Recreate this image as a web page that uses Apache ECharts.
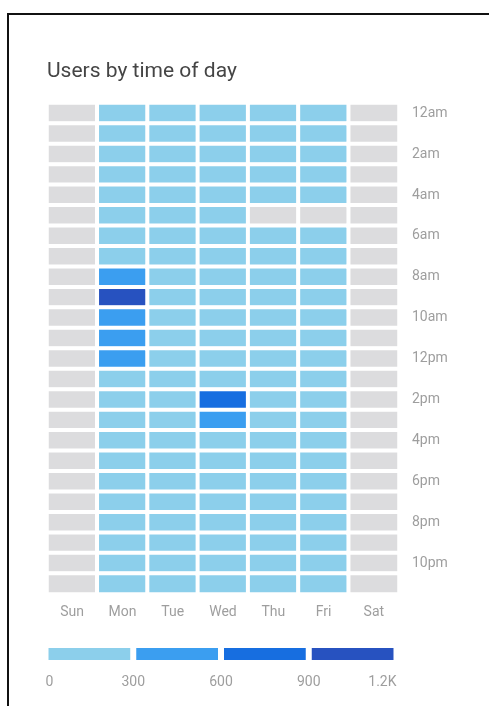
<!DOCTYPE html>
<html>
<head>
<meta charset="utf-8">
<script src="https://cdn.jsdelivr.net/npm/echarts@6/dist/echarts.min.js"></script>
<style>
html,body{margin:0;padding:0;background:#fff;}
#wrap{position:relative;width:489px;height:706px;overflow:hidden;}
#chart{position:absolute;left:0;top:0;width:489px;height:706px;}
#frame{position:absolute;left:7px;top:13px;width:600px;height:800px;border-left:2px solid #111;border-top:2px solid #111;pointer-events:none;}
</style>
</head>
<body>
<div id="wrap"><div id="chart"></div><div id="frame"></div></div>
<script>
const days = ['Sun','Mon','Tue','Wed','Thu','Fri','Sat'];
const hours = ['12am','1am','2am','3am','4am','5am','6am','7am','8am','9am','10am','11am',
               '12pm','1pm','2pm','3pm','4pm','5pm','6pm','7pm','8pm','9pm','10pm','11pm'];
const sun = [0,0,0,0,0,0,0,0,0,0,0,0,0,0,0,0,0,0,0,0,0,0,0,0];
const mon = [95,80,70,60,75,110,150,240,420,1050,480,450,390,280,260,250,230,210,190,170,150,130,120,100];
const tue = [90,75,65,55,60,80,130,210,260,270,250,240,230,220,230,240,220,200,180,160,140,120,110,95];
const wed = [85,70,60,50,55,70,120,200,250,260,240,230,220,210,720,380,230,210,190,170,150,130,110,90];
const thu = [80,65,55,45,40,0,110,190,240,250,235,225,215,205,215,225,210,190,170,150,130,115,100,85];
const fri = [75,60,50,40,35,0,100,180,230,240,225,215,205,195,200,205,190,170,150,135,120,105,95,80];
const sat = [0,0,0,0,0,0,0,0,0,0,0,0,0,0,0,0,0,0,0,0,0,0,0,0];
const dayValues = [sun, mon, tue, wed, thu, fri, sat];
const bandEdges = [0, 300, 600, 900, 1200];
const bandLabels = ['0','300','600','900','1.2K'];
const zeroColor = '#dcdcde';
const bandColors = ['#8ccfeb','#3b9ef0','#176ee0','#2752c0'];

const cells = [];
dayValues.forEach((arr, d) => arr.forEach((v, h) => cells.push([d, h, v])));

const pieces = [{value: 0, color: zeroColor}];
for (let i = 0; i < bandColors.length; i++) {
  pieces.push({gt: bandEdges[i], lte: bandEdges[i+1], color: bandColors[i]});
}

const legendSeries = bandColors.map((c, i) => ({
  type: 'bar', xAxisIndex: 1, yAxisIndex: 1, stack: 'legend',
  data: [bandEdges[i+1] - bandEdges[i]], barWidth: 18,
  itemStyle: {color: c, borderColor: '#fff', borderWidth: 3},
  silent: true
}));

const labelColor = '#9e9e9e';
const chart = echarts.init(document.getElementById('chart'), null, {renderer: 'canvas'});
chart.setOption({
  animation: false,
  textStyle: {fontFamily: 'Roboto'},
  title: {
    text: 'Users by time of day', left: 42, top: 56,
    textStyle: {fontFamily: 'Roboto', fontSize: 21, fontWeight: 'normal', color: '#454545'}
  },
  grid: [
    {left: 47, top: 103, width: 352, height: 491},
    {left: 45.5, top: 645, width: 351, height: 18}
  ],
  xAxis: [
    {type: 'category', gridIndex: 0, data: days, position: 'bottom',
     axisLine: {show: false}, axisTick: {show: false}, splitLine: {show: false},
     axisLabel: {color: labelColor, fontSize: 14, margin: 11, fontFamily: 'Roboto'}},
    {type: 'value', gridIndex: 1, min: bandEdges[0], max: bandEdges[bandEdges.length-1], interval: 300,
     axisLine: {show: false}, axisTick: {show: false}, splitLine: {show: false},
     axisLabel: {color: labelColor, fontSize: 14, margin: 12, fontFamily: 'Roboto',
       alignMinLabel: 'left', alignMaxLabel: 'right',
       formatter: v => bandLabels[bandEdges.indexOf(v)]}}
  ],
  yAxis: [
    {type: 'category', gridIndex: 0, data: hours, inverse: true, position: 'right',
     axisLine: {show: false}, axisTick: {show: false}, splitLine: {show: false},
     axisLabel: {color: labelColor, fontSize: 14, margin: 13, interval: 1, fontFamily: 'Roboto'}},
    {type: 'category', gridIndex: 1, data: ['range'], show: false}
  ],
  visualMap: {type: 'piecewise', show: false, seriesIndex: 0, dimension: 2, pieces: pieces},
  series: [
    {type: 'heatmap', xAxisIndex: 0, yAxisIndex: 0, data: cells,
     itemStyle: {borderColor: '#fff', borderWidth: 4},
     emphasis: {disabled: true}}
  ].concat(legendSeries)
});
</script>
</body>
</html>
